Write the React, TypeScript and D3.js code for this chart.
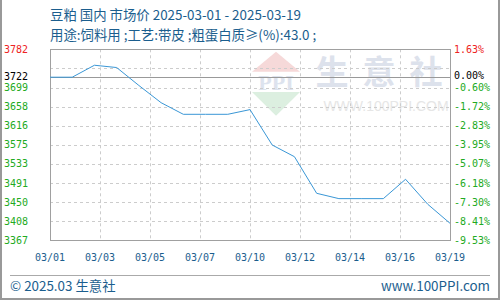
import React, { useEffect } from "react";
import * as d3 from "d3";

const dates = ["03/01","03/02","03/03","03/04","03/05","03/06","03/07","03/08","03/09","03/10","03/11","03/12","03/13","03/14","03/15","03/16","03/17","03/18","03/19"];
const prices = [3722, 3722, 3748, 3743, 3704, 3666.5, 3641.3, 3641.3, 3641.3, 3651.5, 3574.5, 3549.1, 3469.5, 3457.9, 3457.9, 3457.9, 3500, 3445.6, 3404.3];
const xTickLabels = ["03/01","03/03","03/05","03/07","03/10","03/12","03/14","03/16","03/19"];
const leftLabels = ["3782","","3699","3658","3616","3575","3533","3491","3450","3408","3367"];
const rightLabels = ["1.63%","","-0.60%","-1.72%","-2.83%","-3.95%","-5.07%","-6.18%","-7.30%","-8.41%","-9.53%"];
const basePrice = 3722;
const baseLabel = "3722";
const basePct = "0.00%";
const topPct = 1.63;
const bottomPct = -9.53;
const title = "豆粕 国内 市场价 2025-03-01 - 2025-03-19";
const subtitle = "用途:饲料用 ;工艺:带皮 ;粗蛋白质≥(%):43.0 ;";
const footerLeft = "© 2025.03 生意社";
const footerRight = "www.100PPI.com";

const L = 50, R = 450, T = 49.3, B = 240.3;
const mono = "'DejaVu Sans Mono', monospace";
const sans = "'Noto Sans CJK SC', 'Noto Sans', sans-serif";
const blue = "#1b5e8e";

export default function App() {
  useEffect(() => { document.body.style.margin = "0"; }, []);
  const yMax = basePrice * (1 + topPct / 100);
  const yMin = basePrice * (1 + bottomPct / 100);
  const y = d3.scaleLinear().domain([yMin, yMax]).range([B, T]);
  const x = d3.scaleLinear().domain([0, dates.length - 1]).range([L, R]);
  const xt = d3.scaleLinear().domain([0, xTickLabels.length - 1]).range([L, R]);
  const gridVals = d3.range(leftLabels.length).map(i => yMax - i * (yMax - yMin) / (leftLabels.length - 1));
  const line = d3.line<number>().x((_, i) => x(i)).y(d => y(d));
  const yb = y(basePrice);
  return (
    <svg width={500} height={300} style={{ position: "absolute", left: 0, top: 0, background: "#fff" }}>
      {/* watermark */}
      <g>
        <polygon points="252,71.7 300,71.7 276,51.7" fill="#f6d9d9" />
        <text x={276} y={90} textAnchor="middle" fontFamily="'Liberation Serif', serif" fontWeight="bold" fontSize={22} fill="#dde3ee">PPI</text>
        <polygon points="252,92 300,92 276,115.7" fill="#dcefe0" />
        <text x={386} y={84} textAnchor="middle" fontFamily={sans} fontWeight="bold" fontSize={33} fill="#dde2ec" letterSpacing={14}>生意社</text>
        <text x={386} y={111} textAnchor="middle" fontFamily="'Liberation Sans', sans-serif" fontSize={14} fill="#e6e6e6">WWW.100PPI.COM</text>
      </g>
      {/* grid */}
      {gridVals.map((v, i) => (i > 0 && i < gridVals.length - 1) ? (
        <line key={"h" + i} x1={L} x2={R} y1={Math.round(y(v)) + 0.5} y2={Math.round(y(v)) + 0.5} stroke="#cccccc" strokeDasharray="3,3" />
      ) : null)}
      {xTickLabels.map((_, i) => (i > 0 && i < xTickLabels.length - 1) ? (
        <line key={"v" + i} x1={Math.round(xt(i)) + 0.5} x2={Math.round(xt(i)) + 0.5} y1={T} y2={B} stroke="#cccccc" strokeDasharray="3,3" />
      ) : null)}
      <line x1={L} x2={R} y1={Math.round(yb) + 0.5} y2={Math.round(yb) + 0.5} stroke="#999" />
      <rect x={L + 0.5} y={Math.round(T) + 0.5} width={R - L} height={Math.round(B) - Math.round(T)} fill="none" stroke="#a0a0a0" />
      {/* data line */}
      <path d={line(prices) || ""} fill="none" stroke="#3a97d6" strokeWidth={1} />
      {/* left labels */}
      {leftLabels.map((t, i) => t ? (
        <text key={"l" + i} x={28} y={y(gridVals[i]) + 3.5} textAnchor="end" fontFamily={mono} fontSize={10} fill={i === 0 ? "#ee2222" : "#22aa22"}>{t}</text>
      ) : null)}
      <text x={28} y={yb + 2.5} textAnchor="end" fontFamily={mono} fontSize={10} fill="#000">{baseLabel}</text>
      {/* right labels */}
      {rightLabels.map((t, i) => t ? (
        <text key={"r" + i} x={454} y={y(gridVals[i]) + 3.5} fontFamily={mono} fontSize={10} fill={i === 0 ? "#ee2222" : "#22aa22"}>{t}</text>
      ) : null)}
      <text x={454} y={yb + 2} fontFamily={mono} fontSize={10} fill="#000">{basePct}</text>
      {/* x labels */}
      {xTickLabels.map((t, i) => (
        <text key={"x" + i} x={xt(i)} y={260.5} textAnchor="middle" fontFamily={mono} fontSize={10} fill={blue}>{t}</text>
      ))}
      {/* titles */}
      <text x={50} y={20} fontFamily={sans} fontSize={13.4} fill={blue}>{title}</text>
      <text x={50} y={40} fontFamily={sans} fontSize={13.4} fill={blue}>{subtitle}</text>
      {/* footer */}
      <line x1={10} x2={490} y1={275.5} y2={275.5} stroke="#aaa" />
      <text x={10} y={291} fontFamily={sans} fontSize={13.4} fill={blue}>{footerLeft}</text>
      <text x={490} y={291} textAnchor="end" fontFamily={sans} fontSize={13.4} fill={blue}>{footerRight}</text>
      {/* outer border */}
      <line x1={1} x2={1} y1={0} y2={300} stroke="#999" strokeWidth={2} />
      <line x1={499} x2={499} y1={0} y2={300} stroke="#999" strokeWidth={2} />
      <line x1={0} x2={500} y1={299} y2={299} stroke="#999" strokeWidth={2} />
    </svg>
  );
}
